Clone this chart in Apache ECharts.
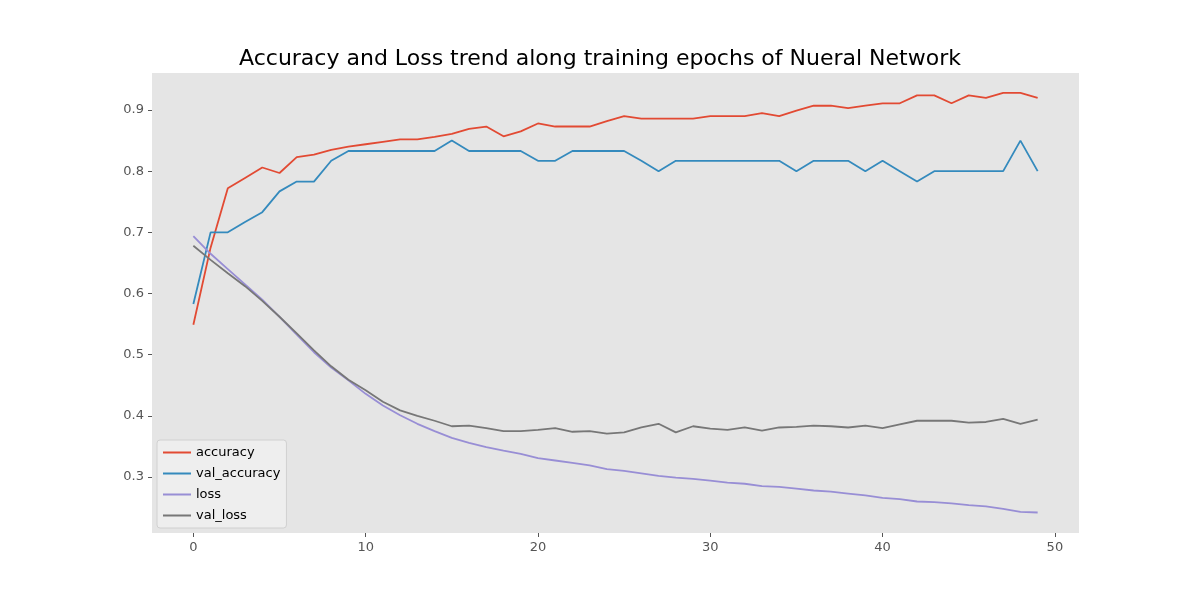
<!DOCTYPE html>
<html>
<head>
<meta charset="utf-8">
<script src="https://cdn.jsdelivr.net/npm/echarts@6/dist/echarts.min.js"></script>
<style>html,body{margin:0;padding:0;background:#fff}#chart{width:1200px;height:600px}</style>
</head>
<body>
<div id="chart"></div>
<script>
const accuracy = [0.549,0.675,0.772,0.789,0.806,0.797,0.823,0.827,0.835,0.840,0.844,0.848,0.852,0.852,0.856,0.861,0.869,0.873,0.857,0.865,
  0.878,0.873,0.873,0.873,0.882,0.890,0.886,0.886,0.886,0.886,0.890,0.890,0.890,0.895,0.890,0.899,0.907,0.907,0.903,0.907,
  0.911,0.911,0.924,0.924,0.911,0.924,0.920,0.928,0.928,0.920];
const valAccuracy = [0.583,0.7,0.7,0.717,0.733,0.767,0.783,0.783,0.817,0.833,0.833,0.833,0.833,0.833,0.833,0.85,0.833,0.833,0.833,0.833,
  0.817,0.817,0.833,0.833,0.833,0.833,0.817,0.8,0.817,0.817,0.817,0.817,0.817,0.817,0.817,0.8,0.817,0.817,0.817,0.8,
  0.817,0.8,0.783,0.8,0.8,0.8,0.8,0.8,0.85,0.8];
const loss = [0.694,0.665,0.640,0.615,0.590,0.562,0.533,0.504,0.479,0.458,0.436,0.417,0.401,0.387,0.375,0.364,0.356,0.349,0.343,0.338,
  0.331,0.327,0.323,0.319,0.313,0.310,0.306,0.302,0.299,0.297,0.294,0.291,0.289,0.285,0.284,0.281,0.278,0.276,0.273,0.270,
  0.266,0.264,0.260,0.259,0.257,0.254,0.252,0.248,0.243,0.242];
const valLoss = [0.678,0.655,0.633,0.612,0.588,0.562,0.535,0.507,0.481,0.459,0.442,0.423,0.409,0.400,0.392,0.383,0.384,0.380,0.375,0.375,
  0.377,0.380,0.374,0.375,0.371,0.373,0.381,0.387,0.373,0.383,0.379,0.377,0.381,0.376,0.381,0.382,0.384,0.383,0.381,0.384,
  0.380,0.386,0.392,0.392,0.392,0.389,0.390,0.395,0.387,0.394];
const xTicks = [0,10,20,30,40,50];
const yTicks = [0.3,0.4,0.5,0.6,0.7,0.8,0.9];

function pairs(arr) { return arr.map((v, i) => [i, v]); }

let chart = echarts.init(document.getElementById('chart'));
let mkSeries = (name, data, color) => ({
  name: name, type: 'line', data: pairs(data), showSymbol: false,
  lineStyle: {color: color, width: 1.8}, itemStyle: {color: color}
});
chart.setOption({
  animation: false,
  title: {
    text: 'Accuracy and Loss trend along training epochs of Nueral Network',
    left: 'center', top: 43,
    textStyle: {fontFamily: 'DejaVu Sans', fontSize: 22, fontWeight: 'normal', color: '#000'}
  },
  grid: {left: 152, right: 121, top: 73, bottom: 67, backgroundColor: '#e5e5e5', show: true, borderWidth: 0},
  legend: {
    orient: 'vertical', left: 157, top: 440,
    backgroundColor: 'rgba(240,240,240,0.8)', borderColor: '#d0d0d0', borderWidth: 1, borderRadius: 3,
    padding: [6, 6, 6, 6], itemGap: 8, itemWidth: 28, itemHeight: 2, icon: 'rect',
    textStyle: {fontFamily: 'DejaVu Sans', fontSize: 13, color: '#000', width: 100},
    data: ['accuracy', 'val_accuracy', 'loss', 'val_loss']
  },
  xAxis: {
    type: 'value', min: -2.4, max: 51.4,
    axisLine: {show: false, onZero: false}, splitLine: {show: false},
    axisTick: {show: true, customValues: xTicks, length: 4, lineStyle: {color: '#555'}},
    axisLabel: {customValues: xTicks, color: '#555', fontFamily: 'DejaVu Sans', fontSize: 13, margin: 8}
  },
  yAxis: {
    type: 'value', min: 0.2085, max: 0.9605,
    axisLine: {show: false, onZero: false}, splitLine: {show: false},
    axisTick: {show: true, customValues: yTicks, length: 4, lineStyle: {color: '#555'}},
    axisLabel: {customValues: yTicks, color: '#555', fontFamily: 'DejaVu Sans', fontSize: 13, margin: 8,
      formatter: v => v.toFixed(1)}
  },
  series: [
    mkSeries('accuracy', accuracy, '#e24a33'),
    mkSeries('val_accuracy', valAccuracy, '#348abd'),
    mkSeries('loss', loss, '#988ed5'),
    mkSeries('val_loss', valLoss, '#777777')
  ]
});
</script>
</body>
</html>
